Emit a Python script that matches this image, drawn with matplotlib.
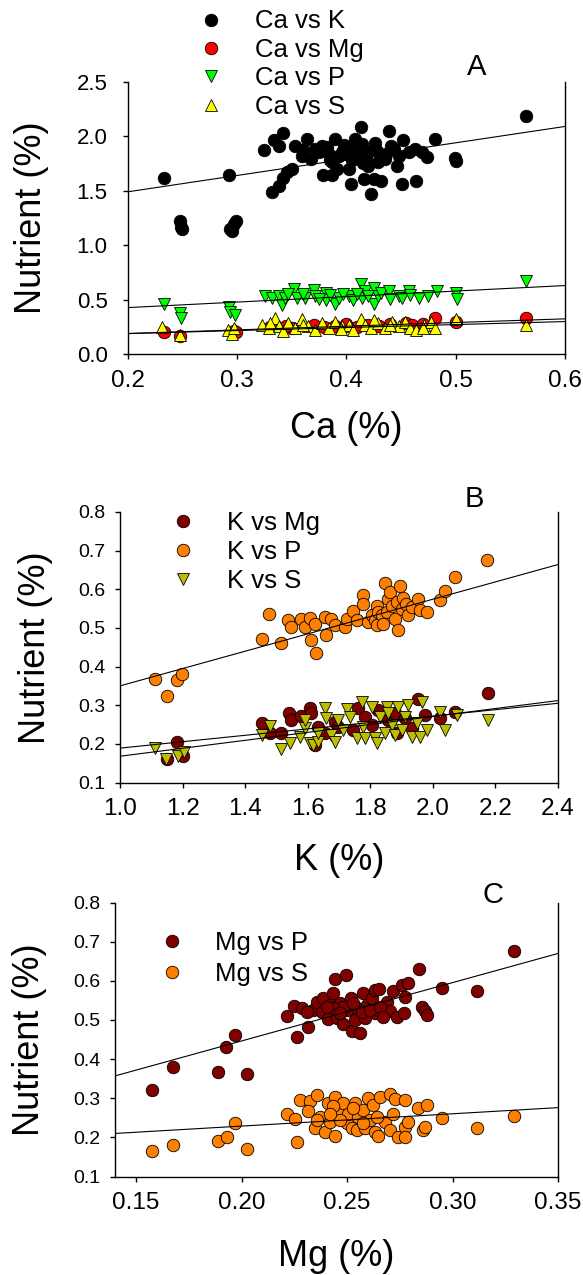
import matplotlib.pyplot as plt
from matplotlib.ticker import FormatStrFormatter

plt.rcParams['font.family'] = ['Liberation Sans', 'DejaVu Sans']

# ---- panel A : nutrients against Ca ----
ca_k_x = [0.233, 0.293, 0.248, 0.249, 0.250, 0.295, 0.294, 0.297, 0.299, 0.325,
          0.334, 0.342, 0.338, 0.332, 0.338, 0.342, 0.346, 0.350, 0.353, 0.359,
          0.364, 0.368, 0.371, 0.378, 0.379, 0.384, 0.387, 0.387, 0.390, 0.391,
          0.396, 0.402, 0.402, 0.404, 0.408, 0.408, 0.413, 0.414, 0.416, 0.420,
          0.420, 0.423, 0.425, 0.426, 0.429, 0.432, 0.432, 0.439, 0.441, 0.446,
          0.448, 0.451, 0.452, 0.457, 0.463, 0.464, 0.469, 0.474, 0.481, 0.500,
          0.499, 0.564, 0.375, 0.382, 0.393, 0.398, 0.405, 0.411, 0.418, 0.428,
          0.436, 0.444, 0.360, 0.385, 0.400, 0.415, 0.435]
ca_k_y = [1.62, 1.64, 1.22, 1.17, 1.15, 1.13, 1.15, 1.19, 1.22, 1.87,
          1.96, 2.03, 1.91, 1.49, 1.54, 1.62, 1.67, 1.70, 1.91, 1.82,
          1.97, 1.79, 1.88, 1.91, 1.64, 1.84, 1.76, 1.64, 1.97, 1.70,
          1.85, 1.88, 1.70, 1.56, 1.82, 1.97, 2.08, 1.93, 1.61, 1.85,
          1.73, 1.47, 1.61, 1.94, 1.76, 1.59, 1.82, 2.05, 1.91, 1.73,
          1.82, 1.56, 1.96, 1.85, 1.88, 1.59, 1.85, 1.81, 1.97, 1.77,
          1.80, 2.18, 1.85, 1.90, 1.82, 1.92, 1.78, 1.87, 1.80, 1.86,
          1.84, 1.88, 1.87, 1.78, 1.84, 1.75, 1.79]

ca_mg_x = [0.233, 0.248, 0.297, 0.299, 0.330, 0.350, 0.370, 0.390, 0.400, 0.410,
           0.420, 0.430, 0.440, 0.455, 0.460, 0.481, 0.500, 0.564, 0.380, 0.345, 0.470]
ca_mg_y = [0.20, 0.17, 0.21, 0.20, 0.25, 0.24, 0.27, 0.26, 0.28, 0.25,
           0.27, 0.26, 0.28, 0.29, 0.27, 0.33, 0.30, 0.33, 0.25, 0.26, 0.28]

ca_p_x = [0.233, 0.248, 0.249, 0.293, 0.294, 0.298, 0.326, 0.332, 0.338, 0.341,
          0.344, 0.352, 0.355, 0.362, 0.370, 0.371, 0.381, 0.381, 0.390, 0.393,
          0.402, 0.406, 0.413, 0.414, 0.417, 0.425, 0.425, 0.429, 0.432, 0.439,
          0.448, 0.451, 0.457, 0.458, 0.466, 0.475, 0.483, 0.500, 0.501, 0.564,
          0.360, 0.385, 0.397, 0.410, 0.420, 0.440, 0.347, 0.375]
ca_p_y = [0.46, 0.38, 0.33, 0.43, 0.39, 0.36, 0.53, 0.52, 0.53, 0.45,
          0.52, 0.60, 0.52, 0.52, 0.59, 0.53, 0.56, 0.50, 0.46, 0.52,
          0.53, 0.50, 0.64, 0.52, 0.58, 0.61, 0.46, 0.53, 0.56, 0.58,
          0.53, 0.52, 0.58, 0.54, 0.52, 0.53, 0.58, 0.56, 0.51, 0.67,
          0.55, 0.54, 0.55, 0.55, 0.53, 0.51, 0.55, 0.51]

ca_s_x = [0.231, 0.248, 0.292, 0.295, 0.297, 0.323, 0.329, 0.335, 0.338, 0.342,
          0.347, 0.353, 0.359, 0.365, 0.371, 0.378, 0.384, 0.390, 0.396, 0.402,
          0.406, 0.413, 0.417, 0.423, 0.429, 0.435, 0.442, 0.448, 0.454, 0.458,
          0.464, 0.471, 0.477, 0.481, 0.500, 0.564, 0.360, 0.395, 0.440, 0.470,
          0.330, 0.425]
ca_s_y = [0.25, 0.18, 0.22, 0.19, 0.24, 0.27, 0.24, 0.33, 0.26, 0.21,
          0.29, 0.24, 0.32, 0.26, 0.22, 0.29, 0.24, 0.30, 0.26, 0.27,
          0.22, 0.32, 0.27, 0.24, 0.29, 0.24, 0.30, 0.26, 0.30, 0.24,
          0.22, 0.27, 0.30, 0.24, 0.32, 0.27, 0.27, 0.23, 0.27, 0.24,
          0.29, 0.31]

# fitted lines read at the two ends of the Ca axis
fit_a_x = [0.2, 0.6]
fit_a_k = [1.489, 2.088]
fit_a_mg = [0.19, 0.325]
fit_a_p = [0.428, 0.630]
fit_a_s = [0.19, 0.300]

# ---- panel B : nutrients against K ----
k_mg_x = [1.181, 1.202, 1.149, 1.453, 1.479, 1.516, 1.541, 1.548, 1.580, 1.607,
          1.612, 1.634, 1.655, 1.687, 1.698, 1.745, 1.761, 1.783, 1.804, 1.825,
          1.857, 1.879, 1.911, 1.953, 1.974, 2.022, 2.070, 2.175, 1.623, 1.932,
          1.884]
k_mg_y = [0.205, 0.168, 0.160, 0.255, 0.227, 0.229, 0.279, 0.262, 0.272, 0.292,
          0.279, 0.244, 0.227, 0.257, 0.244, 0.237, 0.292, 0.270, 0.249, 0.287,
          0.261, 0.279, 0.266, 0.317, 0.274, 0.268, 0.283, 0.332, 0.197, 0.240,
          0.227]

k_p_x = [1.112, 1.149, 1.181, 1.199, 1.453, 1.475, 1.516, 1.538, 1.548, 1.580,
         1.590, 1.607, 1.612, 1.623, 1.628, 1.655, 1.660, 1.676, 1.687, 1.719,
         1.724, 1.745, 1.756, 1.777, 1.777, 1.793, 1.804, 1.815, 1.820, 1.820,
         1.825, 1.836, 1.841, 1.847, 1.852, 1.857, 1.863, 1.868, 1.879, 1.884,
         1.889, 1.895, 1.900, 1.905, 1.915, 1.921, 1.932, 1.953, 1.958, 1.980,
         2.022, 2.038, 2.070, 2.172]
k_p_y = [0.369, 0.323, 0.365, 0.382, 0.472, 0.535, 0.460, 0.520, 0.503, 0.524,
         0.503, 0.525, 0.468, 0.511, 0.434, 0.528, 0.481, 0.524, 0.507, 0.503,
         0.524, 0.543, 0.520, 0.584, 0.563, 0.516, 0.533, 0.520, 0.558, 0.507,
         0.540, 0.533, 0.511, 0.615, 0.540, 0.576, 0.593, 0.558, 0.524, 0.567,
         0.494, 0.609, 0.550, 0.578, 0.563, 0.533, 0.554, 0.576, 0.546, 0.541,
         0.572, 0.595, 0.632, 0.677]

k_s_x = [1.112, 1.147, 1.186, 1.205, 1.453, 1.479, 1.516, 1.543, 1.575, 1.590,
         1.607, 1.618, 1.634, 1.655, 1.660, 1.676, 1.687, 1.724, 1.735, 1.756,
         1.772, 1.777, 1.783, 1.804, 1.815, 1.820, 1.830, 1.847, 1.852, 1.868,
         1.879, 1.889, 1.900, 1.911, 1.921, 1.932, 1.948, 1.958, 1.964, 1.980,
         2.022, 2.038, 2.076, 2.177, 1.714, 1.590, 1.634, 1.698, 1.857]
k_s_y = [0.188, 0.162, 0.168, 0.180, 0.223, 0.246, 0.186, 0.201, 0.218, 0.240,
         0.201, 0.197, 0.205, 0.294, 0.266, 0.223, 0.205, 0.291, 0.270, 0.214,
         0.309, 0.244, 0.214, 0.296, 0.214, 0.201, 0.270, 0.227, 0.296, 0.249,
         0.223, 0.296, 0.236, 0.270, 0.300, 0.218, 0.253, 0.218, 0.309, 0.236,
         0.283, 0.236, 0.274, 0.261, 0.236, 0.262, 0.227, 0.262, 0.279]

fit_b_x = [1.0, 2.4]
fit_b_mg = [0.189, 0.305]
fit_b_p = [0.350, 0.664]
fit_b_s = [0.168, 0.312]

# ---- panel C : nutrients against Mg ----
mg_p_x = [0.1574, 0.1673, 0.1890, 0.2024, 0.1926, 0.1969, 0.2261, 0.2316, 0.2214, 0.2248,
          0.2285, 0.2340, 0.2356, 0.2387, 0.2379, 0.2411, 0.2419, 0.2443, 0.2451, 0.2466,
          0.2482, 0.2495, 0.2506, 0.2517, 0.2522, 0.2537, 0.2545, 0.2561, 0.2577, 0.2585,
          0.2593, 0.2617, 0.2632, 0.2632, 0.2653, 0.2688, 0.2703, 0.2719, 0.2735, 0.2759,
          0.2774, 0.2790, 0.2770, 0.2842, 0.2853, 0.2869, 0.2877, 0.2948, 0.3117, 0.3292,
          0.2435, 0.2482, 0.2529, 0.2569, 0.2608, 0.2656, 0.2672, 0.2435, 0.2403, 0.2308,
          0.2466]
mg_p_y = [0.321, 0.379, 0.366, 0.362, 0.432, 0.462, 0.457, 0.481, 0.510, 0.536,
          0.530, 0.525, 0.547, 0.557, 0.521, 0.502, 0.539, 0.606, 0.504, 0.544,
          0.491, 0.615, 0.525, 0.555, 0.473, 0.500, 0.530, 0.468, 0.568, 0.504,
          0.539, 0.555, 0.576, 0.517, 0.578, 0.547, 0.524, 0.574, 0.508, 0.589,
          0.559, 0.595, 0.519, 0.630, 0.534, 0.524, 0.513, 0.581, 0.574, 0.676,
          0.568, 0.534, 0.543, 0.521, 0.525, 0.534, 0.508, 0.530, 0.534, 0.521,
          0.517]

mg_s_x = [0.1574, 0.1676, 0.1890, 0.1929, 0.1969, 0.2024, 0.2261, 0.2214, 0.2253, 0.2277,
          0.2324, 0.2356, 0.2316, 0.2348, 0.2372, 0.2395, 0.2411, 0.2419, 0.2443, 0.2443,
          0.2466, 0.2482, 0.2498, 0.2506, 0.2522, 0.2537, 0.2545, 0.2553, 0.2577, 0.2585,
          0.2601, 0.2609, 0.2624, 0.2632, 0.2648, 0.2656, 0.2679, 0.2703, 0.2703, 0.2719,
          0.2727, 0.2743, 0.2774, 0.2774, 0.2774, 0.2790, 0.2838, 0.2877, 0.2861, 0.2869,
          0.2948, 0.3117, 0.3292, 0.2435, 0.2466, 0.2529, 0.2577, 0.2419, 0.2356, 0.2640]
mg_s_y = [0.166, 0.180, 0.191, 0.202, 0.238, 0.170, 0.189, 0.261, 0.246, 0.296,
          0.292, 0.308, 0.268, 0.223, 0.253, 0.215, 0.287, 0.240, 0.304, 0.203,
          0.265, 0.289, 0.236, 0.261, 0.223, 0.289, 0.219, 0.253, 0.270, 0.223,
          0.300, 0.244, 0.283, 0.215, 0.203, 0.304, 0.240, 0.312, 0.219, 0.261,
          0.298, 0.200, 0.296, 0.227, 0.202, 0.240, 0.274, 0.283, 0.219, 0.227,
          0.249, 0.223, 0.255, 0.280, 0.244, 0.274, 0.236, 0.261, 0.244, 0.253]

fit_c_x = [0.14, 0.35]
fit_c_p = [0.357, 0.670]
fit_c_s = [0.210, 0.276]

W, H = 583, 1275
fig = plt.figure(figsize=(W / 100, H / 100), dpi=100)


def add_panel(left, top, right, bottom):
    ax = fig.add_axes([left / W, 1 - bottom / H, (right - left) / W, (bottom - top) / H])
    ax.spines['top'].set_visible(False)
    for s in ['left', 'bottom', 'right']:
        ax.spines[s].set_linewidth(1.0)
    ax.tick_params(direction='out', length=3.5, width=1.0, top=False, right=False)
    ax.tick_params(axis='x', labelsize=17.5, pad=7.5)
    return ax, (left, top, right, bottom)


def put_labels(ax, box, xlabel, xl_y, yl_x):
    left, top, right, bottom = box
    ax.set_xlabel(xlabel, fontsize=26)
    ax.xaxis.label.set_va('center')
    ax.xaxis.set_label_coords(0.5, (bottom - xl_y) / (bottom - top))
    ax.set_ylabel('Nutrient (%)', fontsize=26)
    ax.yaxis.label.set_va('center')
    ax.yaxis.set_label_coords((yl_x - left) / (right - left), 0.5)


def dots(ax, x, y, marker, color, label, ms=9):
    ax.plot(x, y, marker, ls='none', ms=ms, mfc=color, mec='black', mew=0.6, label=label)


def put_legend(ax, x_px, y_px, spacing):
    ax.legend(loc='upper left', bbox_to_anchor=(x_px / W, 1 - y_px / H),
              bbox_transform=fig.transFigure, frameon=False, fontsize=18.5,
              handlelength=1.0, handletextpad=1.2, labelspacing=spacing,
              borderpad=0, borderaxespad=0, numpoints=1)


# panel A
axA, boxA = add_panel(127.7, 81.5, 565, 354.3)
dots(axA, ca_k_x, ca_k_y, 'o', 'black', 'Ca vs K')
dots(axA, ca_mg_x, ca_mg_y, 'o', '#ff0000', 'Ca vs Mg')
dots(axA, ca_p_x, ca_p_y, 'v', '#00ff00', 'Ca vs P')
dots(axA, ca_s_x, ca_s_y, '^', '#ffff00', 'Ca vs S')
for fy in [fit_a_k, fit_a_mg, fit_a_p, fit_a_s]:
    axA.plot(fit_a_x, fy, color='black', lw=0.8)
axA.set_xlim(0.2, 0.6)
axA.set_ylim(0.0, 2.5)
axA.set_xticks([0.2, 0.3, 0.4, 0.5, 0.6])
axA.set_yticks([0.0, 0.5, 1.0, 1.5, 2.0, 2.5])
axA.xaxis.set_major_formatter(FormatStrFormatter('%.1f'))
axA.yaxis.set_major_formatter(FormatStrFormatter('%.1f'))
axA.tick_params(axis='y', labelsize=16, pad=11)
put_labels(axA, boxA, 'Ca (%)', 429, 31.6)
put_legend(axA, 198, 9.5, 0.17)
fig.text(477 / W, 1 - 75 / H, 'A', fontsize=21, ha='center', va='baseline')

# panel B
axB, boxB = add_panel(120, 512, 558, 782.5)
dots(axB, k_mg_x, k_mg_y, 'o', '#800000', 'K vs Mg')
dots(axB, k_p_x, k_p_y, 'o', '#ff8000', 'K vs P')
dots(axB, k_s_x, k_s_y, 'v', '#bebe00', 'K vs S')
for fy in [fit_b_mg, fit_b_p, fit_b_s]:
    axB.plot(fit_b_x, fy, color='black', lw=0.8)
axB.set_xlim(1.0, 2.4)
axB.set_ylim(0.1, 0.8)
axB.set_xticks([1.0, 1.2, 1.4, 1.6, 1.8, 2.0, 2.2, 2.4])
axB.set_yticks([0.1, 0.2, 0.3, 0.4, 0.5, 0.6, 0.7, 0.8])
axB.xaxis.set_major_formatter(FormatStrFormatter('%.1f'))
axB.yaxis.set_major_formatter(FormatStrFormatter('%.1f'))
axB.tick_params(axis='y', labelsize=14, pad=6.7)
put_labels(axB, boxB, 'K (%)', 860, 36)
put_legend(axB, 170.4, 511, 0.2)
fig.text(474 / W, 1 - 507 / H, 'B', fontsize=21, ha='center', va='baseline')

# panel C
axC, boxC = add_panel(115, 902.6, 558, 1176.5)
dots(axC, mg_p_x, mg_p_y, 'o', '#800000', 'Mg vs P')
dots(axC, mg_s_x, mg_s_y, 'o', '#ff8000', 'Mg vs S')
for fy in [fit_c_p, fit_c_s]:
    axC.plot(fit_c_x, fy, color='black', lw=0.8)
axC.set_xlim(0.14, 0.35)
axC.set_ylim(0.1, 0.8)
axC.set_xticks([0.15, 0.20, 0.25, 0.30, 0.35])
axC.set_yticks([0.1, 0.2, 0.3, 0.4, 0.5, 0.6, 0.7, 0.8])
axC.xaxis.set_major_formatter(FormatStrFormatter('%.2f'))
axC.yaxis.set_major_formatter(FormatStrFormatter('%.1f'))
axC.tick_params(axis='y', labelsize=14, pad=7)
put_labels(axC, boxC, 'Mg (%)', 1256, 29.7)
put_legend(axC, 158.8, 931, 0.27)
fig.text(493 / W, 1 - 903 / H, 'C', fontsize=21, ha='center', va='baseline')

fig.savefig('out.png', dpi=100)
